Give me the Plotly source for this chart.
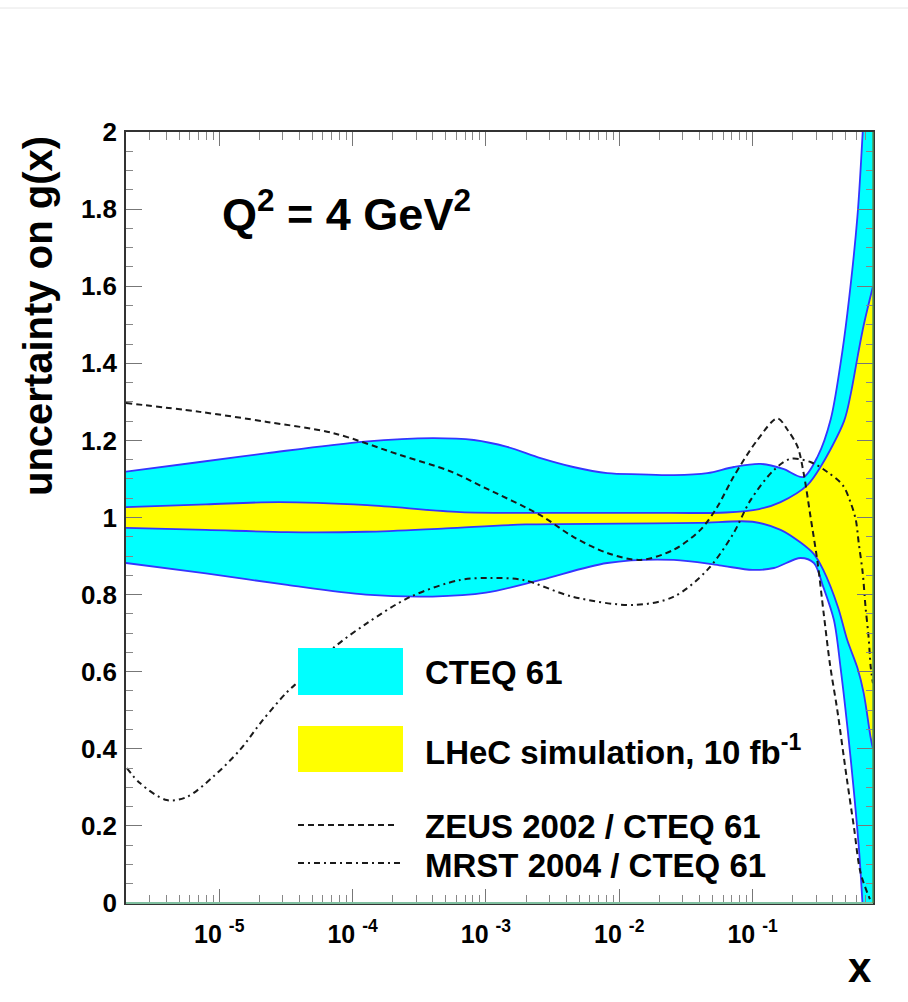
import plotly.graph_objects as go

# ---------------- data (x given as log10(x), y = ratio) ----------------
cteq_up_lx = [-5.70, -5.145, -4.64, -3.91, -3.40, -3.09, -2.84, -2.59, -2.345, -2.09, -1.84, -1.59,
              -1.34, -1.14, -0.94, -0.77, -0.62, -0.51, -0.414, -0.34, -0.289, -0.214, -0.174, -0.097]
cteq_up_y = [1.119, 1.144, 1.167, 1.197, 1.206, 1.201, 1.183, 1.154, 1.131, 1.115, 1.112, 1.110,
             1.115, 1.131, 1.139, 1.126, 1.105, 1.160, 1.255, 1.40, 1.53, 1.78, 2.0, 2.5]

cteq_lo_lx = [-5.70, -5.10, -4.49, -3.90, -3.40, -3.00, -2.59, -2.09, -1.59, -1.25, -1.00, -0.84,
              -0.64, -0.54, -0.47, -0.39, -0.34, -0.289, -0.239, -0.20, -0.176, -0.097]
cteq_lo_y = [0.882, 0.855, 0.825, 0.800, 0.795, 0.805, 0.838, 0.882, 0.890, 0.876, 0.864, 0.869,
             0.895, 0.882, 0.820, 0.734, 0.610, 0.457, 0.285, 0.130, 0.000, -0.50]

lhec_up_lx = [-5.70, -5.10, -4.55, -3.89, -3.19, -2.50, -1.80, -1.20, -0.95, -0.79, -0.589, -0.489,
              -0.314, -0.264, -0.211, -0.166, -0.097]
lhec_up_y = [1.027, 1.034, 1.040, 1.032, 1.014, 1.012, 1.012, 1.013, 1.022, 1.040, 1.084, 1.132,
             1.250, 1.320, 1.420, 1.500, 1.600]

lhec_lo_lx = [-5.70, -5.10, -4.49, -3.90, -3.30, -2.70, -2.00, -1.40, -1.00, -0.79, -0.64, -0.54,
              -0.47, -0.36, -0.29, -0.214, -0.167, -0.115, -0.097]
lhec_lo_y = [0.973, 0.968, 0.962, 0.963, 0.972, 0.982, 0.984, 0.986, 0.989, 0.968, 0.935, 0.905,
             0.864, 0.768, 0.682, 0.610, 0.545, 0.430, 0.400]

zeus_lx = [-5.70, -5.145, -4.642, -4.146, -3.643, -3.268, -3.02, -2.592, -2.345, -2.09, -1.842, -1.594,
           -1.391, -1.264, -1.144, -0.964, -0.814, -0.737, -0.662, -0.617, -0.565, -0.512, -0.467,
           -0.42, -0.365, -0.295, -0.24, -0.19, -0.12]
zeus_y = [1.297, 1.274, 1.248, 1.219, 1.162, 1.120, 1.079, 1.006, 0.950, 0.908, 0.890, 0.916,
          0.968, 1.028, 1.105, 1.201, 1.257, 1.227, 1.183, 1.115, 1.001, 0.882, 0.752,
          0.620, 0.501, 0.327, 0.197, 0.078, 0.010]

mrst_lx = [-5.692, -5.595, -5.393, -5.243, -5.047, -4.845, -4.672, -4.492, -4.409, -4.146, -3.891,
           -3.568, -3.193, -2.967, -2.72, -2.345, -1.894, -1.594, -1.339, -1.15, -1.015, -0.841,
           -0.716, -0.566, -0.439, -0.324, -0.264, -0.226, -0.204, -0.174, -0.153, -0.13, -0.114, -0.097]
mrst_y = [0.350, 0.311, 0.267, 0.275, 0.327, 0.397, 0.475, 0.547, 0.573, 0.661, 0.726,
          0.794, 0.838, 0.843, 0.838, 0.794, 0.773, 0.794, 0.864, 0.955, 1.045, 1.123,
          1.152, 1.144, 1.118, 1.084, 1.038, 0.994, 0.934, 0.856, 0.768, 0.690, 0.612, 0.570]

x_tick_vals = [1e-5, 1e-4, 1e-3, 1e-2, 1e-1]
x_tick_text = ["10 <sup>-5</sup>", "10 <sup>-4</sup>", "10 <sup>-3</sup>", "10 <sup>-2</sup>", "10 <sup>-1</sup>"]
y_tick_vals = [0, 0.2, 0.4, 0.6, 0.8, 1.0, 1.2, 1.4, 1.6, 1.8, 2.0]
y_tick_text = ["0", "0.2", "0.4", "0.6", "0.8", "1", "1.2", "1.4", "1.6", "1.8", "2"]

legend_labels = ["CTEQ 61", "LHeC simulation, 10 fb<sup>-1</sup>", "ZEUS 2002 / CTEQ 61", "MRST 2004 / CTEQ 61"]

# ---------------- styling ----------------
W, H = 908, 1002
L, R, T, B = 126, 35, 132, 99
PW, PH = W - L - R, H - T - B
FONT = "Liberation Sans, Arial, Helvetica, sans-serif"
CYAN, YELLOW, BLUE = "#00ffff", "#ffff00", "#3535ff"


def px(xp):
    return (xp - L) / PW


def py(yp):
    return (H - B - yp) / PH


def tox(lx):
    return [10 ** v for v in lx]


fig = go.Figure()
SM = 0.9
# fills
fig.add_trace(go.Scatter(x=tox(cteq_lo_lx), y=cteq_lo_y, mode="lines",
                         line=dict(width=0, shape="spline", smoothing=SM), hoverinfo="skip"))
fig.add_trace(go.Scatter(x=tox(cteq_up_lx), y=cteq_up_y, mode="lines", fill="tonexty", fillcolor=CYAN,
                         line=dict(width=0, shape="spline", smoothing=SM), hoverinfo="skip"))
fig.add_trace(go.Scatter(x=tox(lhec_lo_lx), y=lhec_lo_y, mode="lines",
                         line=dict(width=0, shape="spline", smoothing=SM), hoverinfo="skip"))
fig.add_trace(go.Scatter(x=tox(lhec_up_lx), y=lhec_up_y, mode="lines", fill="tonexty", fillcolor=YELLOW,
                         line=dict(width=0, shape="spline", smoothing=SM), hoverinfo="skip"))
# outlines
for lx, yy in [(cteq_up_lx, cteq_up_y), (cteq_lo_lx, cteq_lo_y), (lhec_up_lx, lhec_up_y), (lhec_lo_lx, lhec_lo_y)]:
    fig.add_trace(go.Scatter(x=tox(lx), y=yy, mode="lines",
                             line=dict(width=1.8, color=BLUE, shape="spline", smoothing=SM), hoverinfo="skip"))
# ratio curves
fig.add_trace(go.Scatter(x=tox(zeus_lx), y=zeus_y, mode="lines", name=legend_labels[2],
                         line=dict(width=2, color="#1a1a1a", dash="6px,4px", shape="spline", smoothing=SM)))
fig.add_trace(go.Scatter(x=tox(mrst_lx), y=mrst_y, mode="lines", name=legend_labels[3],
                         line=dict(width=2, color="#1a1a1a", dash="6px,4px,2px,4px", shape="spline", smoothing=SM)))

minor_x = [k * 10.0 ** n for n in range(-6, 0) for k in range(2, 10) if 2e-6 <= k * 10.0 ** n <= 0.8]

fig.update_layout(
    width=W, height=H, margin=dict(l=L, r=R, t=T, b=B),
    paper_bgcolor="white", plot_bgcolor="white", showlegend=False,
    font=dict(family=FONT, color="black"),
    xaxis=dict(type="log", range=[-5.699, -0.0969], tickmode="array", tickvals=x_tick_vals,
               ticktext=x_tick_text, ticks="inside", ticklen=14, tickcolor="#777777", tickwidth=1.2,
               showgrid=False, zeroline=False, showline=True, linecolor="#333333", linewidth=1.5,
               mirror="ticks", tickfont=dict(size=25, family=FONT, weight="bold"), ticklabelstandoff=8,
               minor=dict(tickmode="array", tickvals=minor_x, ticks="inside", ticklen=8,
                          tickcolor="#888888", tickwidth=1.2, showgrid=False)),
    yaxis=dict(range=[0, 2], tickmode="array", tickvals=y_tick_vals, ticktext=y_tick_text,
               ticks="inside", ticklen=16, tickcolor="#777777", tickwidth=1.2,
               showgrid=False, zeroline=False, showline=True, linecolor="#333333", linewidth=1.5,
               mirror="ticks", tickfont=dict(size=26, family=FONT, weight="bold"), ticklabelstandoff=2,
               minor=dict(dtick=0.05, ticks="inside", ticklen=7, tickcolor="#888888", tickwidth=1.2,
                          showgrid=False)),
)

# frame colour accents (bottom / right)
fig.add_shape(type="line", xref="paper", yref="paper", x0=0, x1=1, y0=0, y1=0,
              line=dict(color="#7fbf9f", width=2), layer="above")
fig.add_shape(type="line", xref="paper", yref="paper", x0=1, x1=1, y0=0, y1=1,
              line=dict(color="#4f9a5a", width=1.5), layer="above")
# top page rule
fig.add_shape(type="line", xref="paper", yref="paper", x0=px(0), x1=px(W), y0=py(8), y1=py(8),
              line=dict(color="#e6e6e6", width=1), layer="above")

# legend swatches
fig.add_shape(type="rect", xref="paper", yref="paper", x0=px(298), x1=px(403), y0=py(695), y1=py(648),
              fillcolor=CYAN, line=dict(width=0))
fig.add_shape(type="rect", xref="paper", yref="paper", x0=px(298), x1=px(403), y0=py(772), y1=py(726),
              fillcolor=YELLOW, line=dict(width=0))
fig.add_shape(type="line", xref="paper", yref="paper", x0=px(298), x1=px(398), y0=py(825), y1=py(825),
              line=dict(color="#1a1a1a", width=2, dash="6px,4px"))
fig.add_shape(type="line", xref="paper", yref="paper", x0=px(298), x1=px(403), y0=py(863), y1=py(863),
              line=dict(color="#1a1a1a", width=2, dash="6px,4px,2px,4px"))

for txt, yc in zip(legend_labels, [672, 750, 826, 865]):
    fig.add_annotation(xref="paper", yref="paper", x=px(423), y=py(yc), xanchor="left", yanchor="middle",
                       text=txt, showarrow=False, font=dict(size=33, family=FONT, weight="bold"))

fig.add_annotation(xref="paper", yref="paper", x=px(220), y=py(211), xanchor="left", yanchor="middle",
                   text="Q<sup>2</sup> = 4 GeV<sup>2</sup>", showarrow=False,
                   font=dict(size=45, family=FONT, weight="bold"))
fig.add_annotation(xref="paper", yref="paper", x=px(38), y=py(316), xanchor="center", yanchor="middle",
                   text="uncertainty on g(x)", textangle=-90, showarrow=False,
                   font=dict(size=40, family=FONT, weight="bold"))
fig.add_annotation(xref="paper", yref="paper", x=px(860), y=py(968), xanchor="center", yanchor="middle",
                   text="x", showarrow=False, font=dict(size=42, family=FONT, weight="bold"))

fig.write_html("out.html", config={"displayModeBar": False},
               post_script="document.body.style.margin='0';document.body.style.overflow='hidden';")
